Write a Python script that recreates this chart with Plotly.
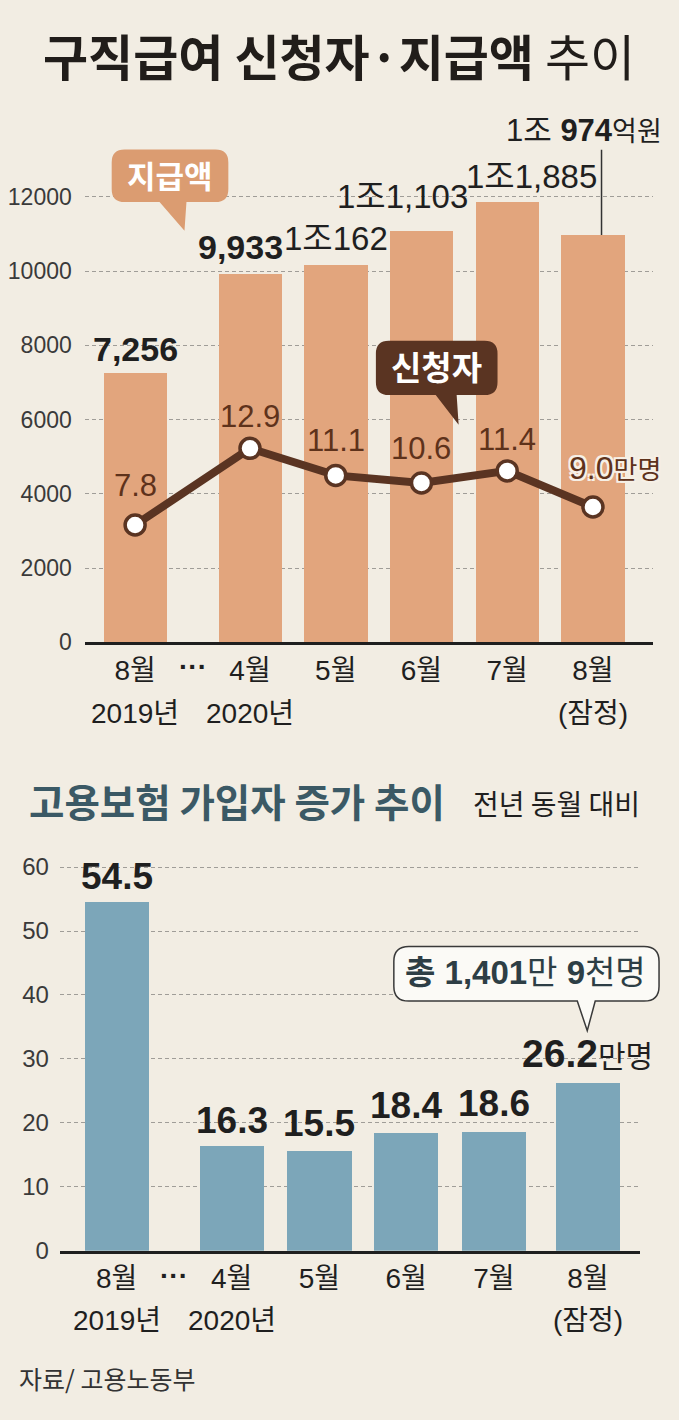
import plotly.graph_objects as go

PAGE_W, PAGE_H = 679, 1420
BODY_MARGIN = 8                      # default html body margin
W, H = PAGE_W - 2 * BODY_MARGIN, PAGE_H - 2 * BODY_MARGIN

# ---------------- data ----------------
months = ["8월", "4월", "5월", "6월", "7월", "8월"]
sub_labels = ["2019년", "2020년", "", "", "", "(잠정)"]
benefit_amount = [7256, 9933, 10162, 11103, 11885, 10974]          # 억원
benefit_text = ["<b>7,256</b>", "<b>9,933</b>", "1조162", "1조1,103", "1조1,885",
                "1조 <b>974</b><span style='font-size:27px'>억원</span>"]
applicants = [7.8, 12.9, 11.1, 10.6, 11.4, 9.0]                      # 만명
applicant_text = ["7.8", "12.9", "11.1", "10.6", "11.4",
                  "9.0<span style='font-size:26px'>만명</span>"]
insured_increase = [54.5, 16.3, 15.5, 18.4, 18.6, 26.2]              # 만명
insured_text = ["<b>54.5</b>", "<b>16.3</b>", "<b>15.5</b>", "<b>18.4</b>", "<b>18.6</b>",
                "<b>26.2</b><span style='font-size:30px'>만명</span>"]
top_yticks = [0, 2000, 4000, 6000, 8000, 10000, 12000]
bottom_yticks = [0, 10, 20, 30, 40, 50, 60]

# ---------------- layout helpers (positions / styles) ----------------
top_pos = [0, 1.34, 2.34, 3.34, 4.34, 5.34]
bot_pos = [0, 1.31, 2.31, 3.3, 4.3, 5.37]

BG = "#f2ede3"
SALMON = "#e2a57d"
BROWN = "#5a3422"
BLUE = "#7ca6b9"
TEAL = "#3b5965"
INK = "#1f1f1f"
NUM = "Liberation Sans, Noto Sans CJK KR, sans-serif"
KR = "Noto Sans CJK KR, sans-serif"


def px(x):
    """page pixel x -> paper fraction"""
    return (x - BODY_MARGIN) / W


def py(y):
    """page pixel y -> paper fraction"""
    return 1 - (y - BODY_MARGIN) / H


fig = go.Figure()

fig.add_trace(go.Bar(x=top_pos, y=benefit_amount, width=0.74, marker_color=SALMON,
                     marker_line_width=0, xaxis="x", yaxis="y", hoverinfo="skip"))
fig.add_trace(go.Scatter(x=top_pos, y=applicants, mode="lines+markers",
                         line=dict(color=BROWN, width=8),
                         marker=dict(size=20, color="white", line=dict(color=BROWN, width=3.5)),
                         xaxis="x", yaxis="y2", hoverinfo="skip"))
fig.add_trace(go.Bar(x=bot_pos, y=insured_increase, width=0.73, marker_color=BLUE,
                     marker_line_width=0, xaxis="x2", yaxis="y3", hoverinfo="skip"))

grid = dict(showgrid=True, gridcolor="#a09d98", gridwidth=1, griddash="4px,3px",
            zeroline=False, ticks="", fixedrange=True)
xcommon = dict(showgrid=False, zeroline=False, showline=True, linecolor=INK, linewidth=3,
               ticks="", tickfont=dict(family=NUM, size=28, color=INK), fixedrange=True,
               ticklabelstandoff=1)

top_ymax = 14000
bot_ymax = 62
fig.update_layout(
    width=W, height=H, autosize=False, margin=dict(l=0, r=0, t=0, b=0),
    paper_bgcolor=BG, plot_bgcolor="rgba(0,0,0,0)", showlegend=False,
    bargap=0,
    xaxis=dict(domain=[px(83), px(653)], range=[-0.587, 6.041], anchor="y",
               tickvals=top_pos, ticktext=months, **xcommon),
    yaxis=dict(domain=[py(647.7), py(122.7)], range=[0, top_ymax], tickvals=top_yticks,
               ticktext=[str(v) for v in top_yticks], anchor="x",
               tickfont=dict(family=NUM, size=23, color="#3a3a3a"), ticklabelstandoff=12,
               **grid),
    yaxis2=dict(overlaying="y", range=[0, top_ymax / 405], visible=False, anchor="x"),
    xaxis2=dict(domain=[px(58), px(640)], range=[-0.648, 5.966], anchor="y3",
                tickvals=bot_pos, ticktext=months, **xcommon),
    yaxis3=dict(domain=[py(1262.3), py(861.8)], range=[0, bot_ymax], tickvals=bottom_yticks,
                ticktext=[str(v) for v in bottom_yticks], anchor="x2",
                tickfont=dict(family=NUM, size=24, color="#3a3a3a"), ticklabelstandoff=10,
                **grid),
)

ann = []


def note(x, y, text, font, xref="paper", yref="paper", xanchor="center", yanchor="middle",
         **kw):
    ann.append(dict(x=x, y=y, xref=xref, yref=yref, xanchor=xanchor, yanchor=yanchor,
                    showarrow=False, text=text, font=font, **kw))


note(px(337.5), py(54), "<b>구직급여 신청자·지급액</b> 추이",
     dict(family=KR, size=49, color="#211d1a"))
note(px(236), py(807), "<b>고용보험 가입자 증가 추이</b>", dict(family=KR, size=38.5, color=TEAL))
note(px(556), py(810), "전년 동월 대비", dict(family=KR, size=28, color=INK))
note(px(15), py(1391), "자료/ 고용노동부", dict(family=KR, size=25, color="#333333"),
     xanchor="left")

for p, s in zip(top_pos, sub_labels):
    if s:
        note(p, py(720), s, dict(family=NUM, size=28, color=INK), xref="x")
for p, s in zip(bot_pos, sub_labels):
    if s:
        note(p, py(1333), s, dict(family=NUM, size=28, color=INK), xref="x2")

top_dx = [0, -9, 0, -19, 24, -9]
top_dy = [24, 27, 27, 34, 25, 104]
for i, (p, v, t) in enumerate(zip(top_pos, benefit_amount, benefit_text)):
    size = 34 if i < 2 else (31 if i == 5 else 33)
    note(p, v, t, dict(family=NUM, size=size, color=INK), xref="x", yref="y",
         xshift=top_dx[i], yshift=top_dy[i])

ppu = 525 / top_ymax
fig.add_shape(type="line", xref="x", yref="y", x0=top_pos[5] + 0.1, x1=top_pos[5] + 0.1,
              y0=benefit_amount[5], y1=benefit_amount[5] + 86 / ppu,
              line=dict(color="#333333", width=1.5))

line_dy = [40, 32, 35, 34, 31, 39]
halo = "2px 2px 0 #f6f0e6, -2px -2px 0 #f6f0e6, 2px -2px 0 #f6f0e6, -2px 2px 0 #f6f0e6"
for i, (p, v, t) in enumerate(zip(top_pos, applicants, applicant_text)):
    last = i == 5
    note(p, v, t, dict(family=NUM, size=31 if not last else 32, color="#5e321b",
                       shadow=halo if last else "none"),
         xref="x", yref="y2", xanchor="left" if last else "center",
         xshift=-26 if last else 0, yshift=line_dy[i])

bot_dy = [26, 26, 28, 28, 28, 30]
for i, (p, v, t) in enumerate(zip(bot_pos, insured_increase, insured_text)):
    note(p, v, t, dict(family=NUM, size=37 if i < 5 else 39, color=INK), xref="x2", yref="y3",
         yshift=bot_dy[i])

note((top_pos[0] + top_pos[1]) / 2, py(672), "<b>···</b>",
     dict(family="Liberation Sans", size=28, color=INK), xref="x")
note((bot_pos[0] + bot_pos[1]) / 2, py(1287), "<b>···</b>",
     dict(family="Liberation Sans", size=28, color=INK), xref="x2")


def bubble(x0, y0, x1, y1, r, tail):
    (bl, tip, br) = tail

    def P(x, y):
        return f"{px(x):.5f},{py(y):.5f}"
    return (f"M{P(x0 + r, y0)} L{P(x1 - r, y0)} Q{P(x1, y0)} {P(x1, y0 + r)} "
            f"L{P(x1, y1 - r)} Q{P(x1, y1)} {P(x1 - r, y1)} "
            f"L{P(br, y1)} L{P(tip[0], tip[1])} L{P(bl, y1)} "
            f"L{P(x0 + r, y1)} Q{P(x0, y1)} {P(x0, y1 - r)} "
            f"L{P(x0, y0 + r)} Q{P(x0, y0)} {P(x0 + r, y0)} Z")


fig.add_shape(type="path", xref="paper", yref="paper",
              path=bubble(110, 150, 227, 203, 13, (158, (183, 232), 185)),
              fillcolor="#db9c71", line=dict(width=0))
note(px(168.5), py(175), "<b>지급액</b>", dict(family=KR, size=31, color="white"))

fig.add_shape(type="path", xref="paper", yref="paper",
              path=bubble(375, 343, 497, 398, 13, (435, (458, 428), 456)),
              fillcolor=BROWN, line=dict(width=0))
note(px(436), py(369), "<b>신청자</b>", dict(family=KR, size=33, color="white"))

fig.add_shape(type="path", xref="paper", yref="paper",
              path=bubble(393, 955, 659, 1010, 15, (577, (587, 1040), 595)),
              fillcolor="#fbfaf6", line=dict(color="#3a3a3a", width=1.5))
note(px(525), py(981), "<b>총 1,401</b>만 <b>9</b>천명",
     dict(family=NUM, size=33, color="#2d3e45"))

fig.update_layout(annotations=ann)

# only colour the 8px page frame around the figure (no layout change)
page_bg = ("document.documentElement.style.background='%s';"
           "document.body.style.background='%s';" % (BG, BG))
fig.write_html("out.html", config={"displayModeBar": False}, post_script=page_bg)
